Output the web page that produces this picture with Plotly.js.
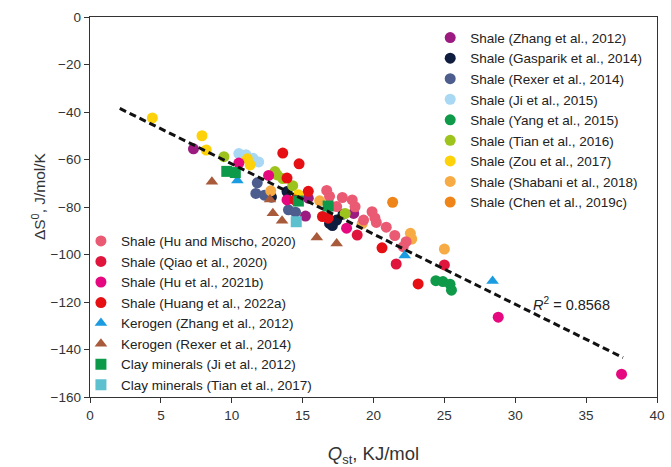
<!DOCTYPE html>
<html><head><meta charset="utf-8">
<script src="https://cdn.plot.ly/plotly-3.0.1.min.js"></script>
<style>html,body{margin:0;padding:0;background:#fff}#chart{width:671px;height:467px}</style>
</head><body><div id="chart"></div>
<script>
// ---- data (Qst in kJ/mol, dS0 in J/mol/K) ----
const zhangShaleX = [7.3, 15.4, 15.2, 18.6];
const zhangShaleY = [-55.5, -76.3, -83.8, -82.7];
const gasparikX = [12.8, 13.9, 17.4, 17.1, 17.85, 16.9];
const gasparikY = [-75.8, -73.5, -85.5, -87.8, -83.0, -86.9];
const rexerShaleX = [11.8, 11.7, 12.3, 14.0, 14.5];
const rexerShaleY = [-69.8, -74.3, -75.0, -81.2, -82.2];
const ji2015X = [10.5, 11.0, 11.5, 11.9];
const ji2015Y = [-57.5, -58.0, -59.5, -61.0];
const yangX = [24.4, 24.9, 25.4, 25.5];
const yangY = [-111.0, -111.4, -112.5, -115.0];
const tianShaleX = [9.45, 13.05, 13.2, 13.6, 14.3, 18.0];
const tianShaleY = [-58.8, -65.1, -66.5, -68.0, -71.0, -82.7];
const zouX = [4.4, 7.9, 8.2, 11.1, 11.3, 14.7];
const zouY = [-42.5, -50.0, -56.0, -59.7, -62.3, -74.8];
const shabaniX = [12.75, 16.2, 19.2, 22.6, 22.7, 25.0];
const shabaniY = [-73.2, -77.4, -87.0, -91.1, -93.5, -97.7];
const chenX = [21.35];
const chenY = [-78.0];
const huMischoX = [16.7, 16.9, 17.4, 17.8, 18.5, 18.7, 19.9, 20.1, 19.3, 20.2, 20.9, 21.5, 22.3, 22.1];
const huMischoY = [-73.0, -75.5, -79.8, -76.0, -77.0, -79.9, -82.0, -84.6, -85.5, -86.5, -88.5, -92.0, -94.6, -96.7];
const qiaoX = [18.85, 21.6, 25.0];
const qiaoY = [-91.8, -104.0, -104.4];
const hu2021X = [10.5, 12.6, 13.9, 18.1, 28.8, 37.5];
const hu2021Y = [-61.5, -66.7, -77.0, -88.9, -126.4, -150.4];
const huangX = [13.6, 14.75, 13.9, 15.4, 14.45, 16.4, 16.8, 20.6, 23.15];
const huangY = [-57.3, -61.8, -67.8, -73.4, -77.0, -84.0, -84.7, -97.2, -112.4];
const kerZhangX = [10.4, 22.2, 28.4];
const kerZhangY = [-68.8, -100.4, -111.2];
const kerRexerX = [8.6, 12.7, 12.9, 13.55, 16.0, 17.4];
const kerRexerY = [-69.4, -76.8, -82.6, -85.8, -92.8, -95.4];
const clayJiX = [9.65, 10.25, 14.7, 16.8];
const clayJiY = [-65.0, -65.5, -77.5, -79.6];
const clayTianX = [14.55];
const clayTianY = [-86.2];
const fitX = [2.1, 37.6];
const fitY = [-38.5, -143.4];
const r2Label = "0.8568";

function pts(name, x, y, color, symbol, legend) {
  return {type: 'scatter', mode: 'markers', name: name, x: x, y: y,
    legend: legend, cliponaxis: false,
    marker: {color: color, symbol: symbol, size: 11, line: {width: 0}}};
}

const traces = [
  pts('Shale (Zhang et al., 2012)', zhangShaleX, zhangShaleY, '#9c1b80', 'circle', 'legend'),
  pts('Shale (Gasparik et al., 2014)', gasparikX, gasparikY, '#0f1d3f', 'circle', 'legend'),
  pts('Shale (Rexer et al., 2014)', rexerShaleX, rexerShaleY, '#4d5e8e', 'circle', 'legend'),
  pts('Shale (Ji et al., 2015)', ji2015X, ji2015Y, '#a8d8f3', 'circle', 'legend'),
  pts('Shale (Yang et al., 2015)', yangX, yangY, '#0f9a4a', 'circle', 'legend'),
  pts('Shale (Tian et al., 2016)', tianShaleX, tianShaleY, '#9dc41c', 'circle', 'legend'),
  pts('Shale (Zou et al., 2017)', zouX, zouY, '#fdd20a', 'circle', 'legend'),
  pts('Shale (Shabani et al., 2018)', shabaniX, shabaniY, '#f6ab44', 'circle', 'legend'),
  pts('Shale (Chen et al., 2019c)', chenX, chenY, '#ef8518', 'circle', 'legend'),
  pts('Shale (Hu and Mischo, 2020)', huMischoX, huMischoY, '#ea5b73', 'circle', 'legend2'),
  pts('Shale (Qiao et al., 2020)', qiaoX, qiaoY, '#e0153d', 'circle', 'legend2'),
  pts('Shale (Hu et al., 2021b)', hu2021X, hu2021Y, '#e5087f', 'circle', 'legend2'),
  pts('Shale (Huang et al., 2022a)', huangX, huangY, '#e60f13', 'circle', 'legend2'),
  pts('Kerogen (Zhang et al., 2012)', kerZhangX, kerZhangY, '#1b9be0', 'triangle-up', 'legend2'),
  pts('Kerogen (Rexer et al., 2014)', kerRexerX, kerRexerY, '#a95a3b', 'triangle-up', 'legend2'),
  pts('Clay minerals (Ji et al., 2012)', clayJiX, clayJiY, '#0c9a4a', 'square', 'legend2'),
  pts('Clay minerals (Tian et al., 2017)', clayTianX, clayTianY, '#5cc0ce', 'square', 'legend2'),
  {type: 'scatter', mode: 'lines', x: fitX, y: fitY, showlegend: false, hoverinfo: 'skip',
   line: {color: '#111', width: 3, dash: '7px,4px'}}
];

const FAM = 'Liberation Sans, Arial, sans-serif';
const axisFont = {family: FAM, size: 13.5, color: '#333'};
const legFont = {family: FAM, size: 13.5, color: '#222'};
const layout = {
  width: 671, height: 467,
  margin: {l: 90, r: 14, t: 17, b: 70},
  paper_bgcolor: '#fff', plot_bgcolor: '#fff',
  font: {family: FAM, color: '#222'},
  xaxis: {range: [0, 40], dtick: 5, tick0: 0, showgrid: false, zeroline: false,
    showline: true, mirror: true, linecolor: '#333', linewidth: 1.3,
    ticks: 'outside', ticklen: 5, tickcolor: '#333', tickfont: axisFont,
    title: {text: '<i>Q</i><sub>st</sub>, KJ/mol', standoff: 27,
      font: {family: FAM, size: 18.5, color: '#333'}}},
  yaxis: {range: [-160, 0], dtick: 20, tick0: 0, showgrid: false, zeroline: false,
    showline: true, mirror: true, linecolor: '#333', linewidth: 1.3,
    ticks: 'outside', ticklen: 5, tickcolor: '#333', tickfont: axisFont},
  legend: {x: 0.6, y: 0.986, xanchor: 'left', yanchor: 'top', bgcolor: 'rgba(0,0,0,0)',
    font: legFont, tracegroupgap: 0},
  legend2: {x: -0.016, y: 0.451, xanchor: 'left', yanchor: 'top', bgcolor: 'rgba(0,0,0,0)',
    font: legFont, tracegroupgap: 0},
  annotations: [
    {xref: 'paper', yref: 'paper', x: -0.112, y: 0.53, textangle: -90, showarrow: false,
     text: 'ΔS<sup>0</sup>, J/mol/K',
     font: {family: FAM, size: 15.5, color: '#333'}},
    {xref: 'x', yref: 'y', x: 34.0, y: -120.8, showarrow: false,
     text: '<i>R</i><sup>2</sup> = ' + r2Label,
     font: {family: FAM, size: 14.5, color: '#222'}}
  ],
  showlegend: true
};
Plotly.newPlot('chart', traces, layout, {staticPlot: true, displayModeBar: false});
</script></body></html>
